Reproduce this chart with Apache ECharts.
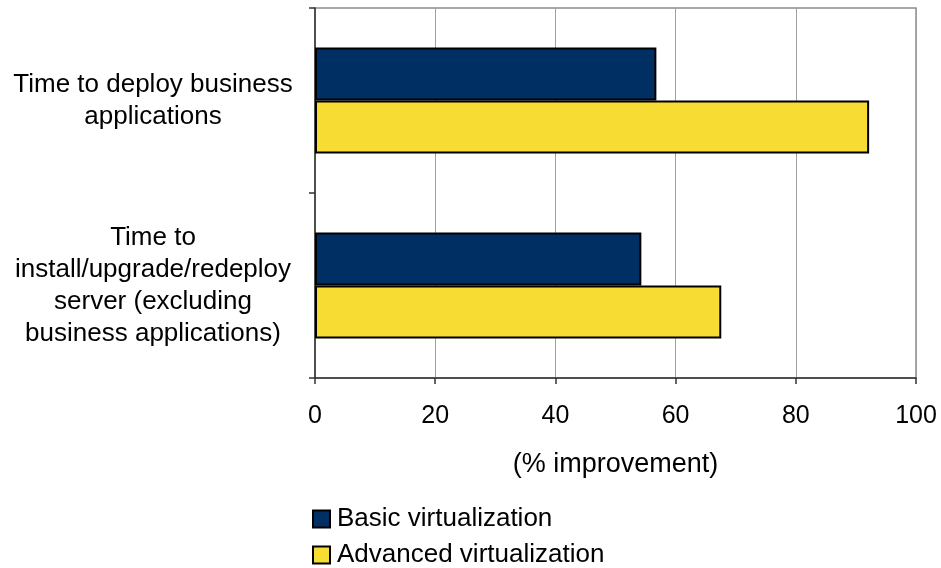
<!DOCTYPE html>
<html><head><meta charset="utf-8">
<script src="https://cdn.jsdelivr.net/npm/echarts@6/dist/echarts.min.js"></script>
<style>html,body{margin:0;padding:0;background:#fff}#c{width:941px;height:568px}</style>
</head><body><div id="c"></div>
<script>
const categories = ["Time to deploy business\napplications", "Time to\ninstall/upgrade/redeploy\nserver (excluding\nbusiness applications)"];
const basicValues = [56.8, 54.3];
const advancedValues = [92.2, 67.6];
const xTicks = [0, 20, 40, 60, 80, 100];
const seriesNames = ["Basic virtualization", "Advanced virtualization"];

const chart = echarts.init(document.getElementById('c'));
const font = 'Liberation Sans, Arial, sans-serif';
chart.setOption({
  animation: false,
  textStyle: {fontFamily: font},
  grid: {left: 315, right: 25, top: 8, bottom: 190, show: true, borderColor: '#8c8c8c', borderWidth: 1.5},
  legend: {
    orient: 'vertical', left: 312, top: 506, height: 90, itemWidth: 17, itemHeight: 17, itemGap: 10,
    icon: 'rect', padding: 0,
    textStyle: {fontSize: 26, color: '#000', fontFamily: font, padding: [0,0,0,2]},
    data: seriesNames
  },
  xAxis: {
    type: 'value', min: xTicks[0], max: xTicks[xTicks.length-1], interval: 20,
    name: '(% improvement)', nameLocation: 'middle', nameGap: 73,
    nameTextStyle: {fontSize: 27, color: '#000', fontFamily: font},
    axisLine: {show: true, lineStyle: {color: '#333', width: 1.5}},
    axisTick: {show: true, length: 6, lineStyle: {color: '#333', width: 1.5}},
    axisLabel: {fontSize: 25, color: '#000', margin: 26, fontFamily: font},
    splitLine: {show: true, lineStyle: {color: '#a0a0a0', width: 1}}
  },
  yAxis: {
    type: 'category', inverse: true, data: categories,
    axisLine: {show: true, lineStyle: {color: '#333', width: 1.5}},
    axisTick: {show: true, length: 6, lineStyle: {color: '#333', width: 1.5}},
    axisLabel: {fontSize: 26, color: '#000', align: 'center', margin: 162, lineHeight: 32, fontFamily: font}
  },
  series: [
    {name: seriesNames[0], type: 'bar', data: basicValues, barWidth: 53, barGap: '0%',
     itemStyle: {color: '#003063', borderColor: '#000', borderWidth: 2}},
    {name: seriesNames[1], type: 'bar', data: advancedValues, barWidth: 53, barGap: '0%',
     itemStyle: {color: '#F7DD33', borderColor: '#000', borderWidth: 2}}
  ]
});
</script></body></html>
